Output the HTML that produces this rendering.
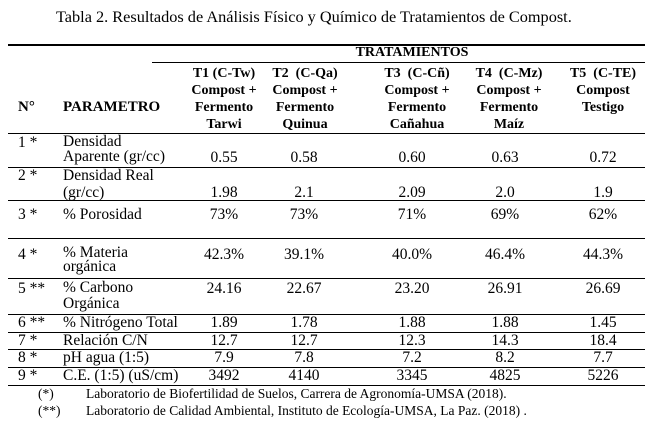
<!DOCTYPE html>
<html><head><meta charset="utf-8"><style>
body{margin:0;width:645px;height:425px;background:#fff;position:relative;font-family:"Liberation Serif",serif;font-size:15.5px;color:#000;overflow:hidden}
.t{position:absolute;white-space:nowrap;line-height:18px}
.c{transform:translateX(-50%);text-align:center}
.b{font-weight:bold;font-size:14px}
.l{position:absolute;left:8px;width:637px;height:1px;background:#000}
</style></head><body>
<div class="t" style="left:56px;top:8px;font-size:16.3px">Tabla 2. Resultados de Análisis Físico y Químico de Tratamientos de Compost.</div>
<div class="l" style="top:44px;height:1.5px"></div>
<div class="l" style="top:62px;left:152px;width:493px"></div>
<div class="t b c" style="left:412px;top:44px">TRATAMIENTOS</div>
<div class="t b c" style="left:224px;top:65px;line-height:17px">T1 (C-Tw)<br>Compost +<br>Fermento<br>Tarwi</div>
<div class="t b c" style="left:305px;top:65px;line-height:17px">T2 &nbsp;(C-Qa)<br>Compost +<br>Fermento<br>Quinua</div>
<div class="t b c" style="left:417px;top:65px;line-height:17px">T3 &nbsp;(C-Cñ)<br>Compost +<br>Fermento<br>Cañahua</div>
<div class="t b c" style="left:509px;top:65px;line-height:17px">T4 &nbsp;(C-Mz)<br>Compost +<br>Fermento<br>Maíz</div>
<div class="t b c" style="left:603px;top:65px;line-height:17px">T5 &nbsp;(C-TE)<br>Compost<br>Testigo</div>
<div class="t b" style="left:18px;top:98px;font-size:15px">N°</div>
<div class="t b" style="left:63px;top:98px;font-size:15px">PARAMETRO</div>
<div class="l" style="top:133px"></div>

<div class="t" style="left:18px;top:134px">1 *</div>
<div class="t" style="left:63px;top:134px;line-height:15px">Densidad<br>Aparente (gr/cc)</div>
<div class="l" style="top:167px"></div>
<div class="t" style="left:18px;top:167px">2 *</div>
<div class="t" style="left:63px;top:167px;line-height:17px">Densidad Real<br>(gr/cc)</div>
<div class="l" style="top:200px"></div>
<div class="t" style="left:18px;top:206px">3 *</div>
<div class="t" style="left:63px;top:206px">% Porosidad</div>
<div class="l" style="top:238px"></div>
<div class="t" style="left:18px;top:246px">4 *</div>
<div class="t" style="left:63px;top:246px;line-height:14px">% Materia<br>orgánica</div>
<div class="l" style="top:278px"></div>
<div class="t" style="left:18px;top:280px">5 **</div>
<div class="t" style="left:63px;top:280px;line-height:16px">% Carbono<br>Orgánica</div>
<div class="l" style="top:314px"></div>
<div class="t" style="left:18px;top:314px">6 **</div>
<div class="t" style="left:63px;top:314px">% Nitrógeno Total</div>
<div class="l" style="top:332px"></div>
<div class="t" style="left:18px;top:332px">7 *</div>
<div class="t" style="left:63px;top:332px">Relación C/N</div>
<div class="l" style="top:349px"></div>
<div class="t" style="left:18px;top:349px">8 *</div>
<div class="t" style="left:63px;top:349px">pH agua (1:5)</div>
<div class="l" style="top:367px"></div>
<div class="t" style="left:18px;top:367px">9 *</div>
<div class="t" style="left:63px;top:367px">C.E. (1:5) (uS/cm)</div>
<div class="l" style="top:385px"></div>

<div class="t c" style="left:224px;top:149px">0.55</div>
<div class="t c" style="left:304px;top:149px">0.58</div>
<div class="t c" style="left:412px;top:149px">0.60</div>
<div class="t c" style="left:505px;top:149px">0.63</div>
<div class="t c" style="left:603px;top:149px">0.72</div>
<div class="t c" style="left:224px;top:184px">1.98</div>
<div class="t c" style="left:304px;top:184px">2.1</div>
<div class="t c" style="left:412px;top:184px">2.09</div>
<div class="t c" style="left:505px;top:184px">2.0</div>
<div class="t c" style="left:603px;top:184px">1.9</div>
<div class="t c" style="left:224px;top:206px">73%</div>
<div class="t c" style="left:304px;top:206px">73%</div>
<div class="t c" style="left:412px;top:206px">71%</div>
<div class="t c" style="left:505px;top:206px">69%</div>
<div class="t c" style="left:603px;top:206px">62%</div>
<div class="t c" style="left:224px;top:246px">42.3%</div>
<div class="t c" style="left:304px;top:246px">39.1%</div>
<div class="t c" style="left:412px;top:246px">40.0%</div>
<div class="t c" style="left:505px;top:246px">46.4%</div>
<div class="t c" style="left:603px;top:246px">44.3%</div>
<div class="t c" style="left:224px;top:280px">24.16</div>
<div class="t c" style="left:304px;top:280px">22.67</div>
<div class="t c" style="left:412px;top:280px">23.20</div>
<div class="t c" style="left:505px;top:280px">26.91</div>
<div class="t c" style="left:603px;top:280px">26.69</div>
<div class="t c" style="left:224px;top:314px">1.89</div>
<div class="t c" style="left:304px;top:314px">1.78</div>
<div class="t c" style="left:412px;top:314px">1.88</div>
<div class="t c" style="left:505px;top:314px">1.88</div>
<div class="t c" style="left:603px;top:314px">1.45</div>
<div class="t c" style="left:224px;top:332px">12.7</div>
<div class="t c" style="left:304px;top:332px">12.7</div>
<div class="t c" style="left:412px;top:332px">12.3</div>
<div class="t c" style="left:505px;top:332px">14.3</div>
<div class="t c" style="left:603px;top:332px">18.4</div>
<div class="t c" style="left:224px;top:349px">7.9</div>
<div class="t c" style="left:304px;top:349px">7.8</div>
<div class="t c" style="left:412px;top:349px">7.2</div>
<div class="t c" style="left:505px;top:349px">8.2</div>
<div class="t c" style="left:603px;top:349px">7.7</div>
<div class="t c" style="left:224px;top:367px">3492</div>
<div class="t c" style="left:304px;top:367px">4140</div>
<div class="t c" style="left:412px;top:367px">3345</div>
<div class="t c" style="left:505px;top:367px">4825</div>
<div class="t c" style="left:603px;top:367px">5226</div>

<div class="t" style="left:38px;top:385px;font-size:13.5px">(*)</div>
<div class="t" style="left:86px;top:385px;font-size:13.5px">Laboratorio de Biofertilidad de Suelos, Carrera de Agronomía-UMSA (2018).</div>
<div class="t" style="left:38px;top:402px;font-size:13.5px">(**)</div>
<div class="t" style="left:86px;top:402px;font-size:13.5px">Laboratorio de Calidad Ambiental, Instituto de Ecología-UMSA, La Paz. (2018) .</div>
</body></html>
